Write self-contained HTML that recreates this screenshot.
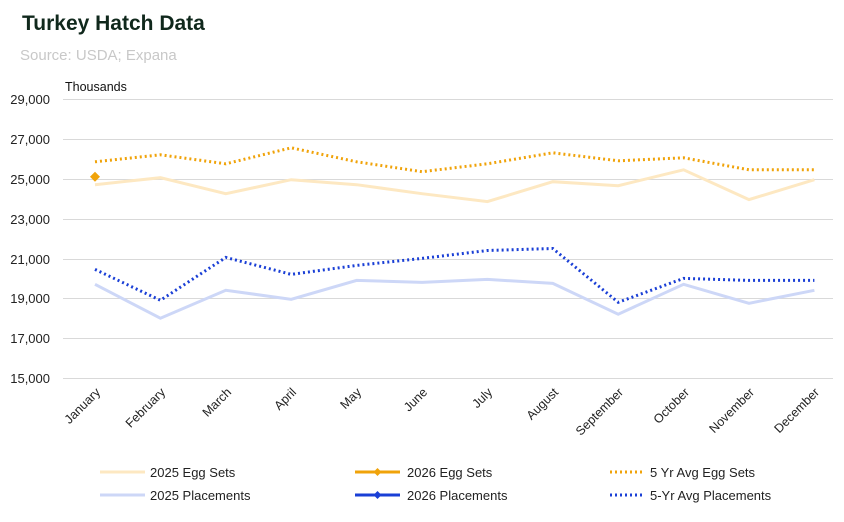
<!DOCTYPE html>
<html><head><meta charset="utf-8"><style>
body{margin:0;background:#fff;width:844px;height:517px;overflow:hidden;font-family:"Liberation Sans",sans-serif}
</style></head><body>
<svg id="s" width="844" height="517" xmlns="http://www.w3.org/2000/svg" font-family="Liberation Sans, sans-serif">
<text x="22" y="30" font-size="21" font-weight="bold" fill="#10281c">Turkey Hatch Data</text>
<text x="20" y="60" font-size="15" fill="#c8c8c8">Source: USDA; Expana</text>
<text x="65" y="91" font-size="12.5" fill="#111">Thousands</text>
<g font-size="13" fill="#222" text-anchor="end">
<text x="50" y="104">29,000</text><text x="50" y="144">27,000</text><text x="50" y="184">25,000</text><text x="50" y="224">23,000</text><text x="50" y="264">21,000</text><text x="50" y="303">19,000</text><text x="50" y="343">17,000</text><text x="50" y="383">15,000</text>
</g>
<g stroke="#d9d9d9" stroke-width="1">
<line x1="63" x2="833" y1="99.5" y2="99.5"/><line x1="63" x2="833" y1="139.5" y2="139.5"/><line x1="63" x2="833" y1="179.5" y2="179.5"/><line x1="63" x2="833" y1="219.5" y2="219.5"/><line x1="63" x2="833" y1="259.5" y2="259.5"/><line x1="63" x2="833" y1="298.5" y2="298.5"/><line x1="63" x2="833" y1="338.5" y2="338.5"/><line x1="63" x2="833" y1="378.5" y2="378.5"/>
</g>
<g font-size="12.5" fill="#222" text-anchor="end">
<text transform="translate(101,393) rotate(-45)">January</text>
<text transform="translate(166,393) rotate(-45)">February</text>
<text transform="translate(232,393) rotate(-45)">March</text>
<text transform="translate(297,393) rotate(-45)">April</text>
<text transform="translate(362,393) rotate(-45)">May</text>
<text transform="translate(428,393) rotate(-45)">June</text>
<text transform="translate(493,393) rotate(-45)">July</text>
<text transform="translate(559,393) rotate(-45)">August</text>
<text transform="translate(624,393) rotate(-45)">September</text>
<text transform="translate(690,393) rotate(-45)">October</text>
<text transform="translate(755,393) rotate(-45)">November</text>
<text transform="translate(820,393) rotate(-45)">December</text>
</g>
<g id="series"></g>
<g font-size="13" fill="#222">
<line x1="100" x2="145" y1="472" y2="472" stroke="#fde8c2" stroke-width="3"/><text x="150" y="477">2025 Egg Sets</text>
<line x1="355" x2="400" y1="472" y2="472" stroke="#f0a30a" stroke-width="3"/><path d="M377.5 468l4 4-4 4-4-4z" fill="#f0a30a"/><text x="407" y="477">2026 Egg Sets</text>
<line x1="610" x2="645" y1="472" y2="472" stroke="#f0a30a" stroke-width="3" stroke-dasharray="2,3"/><text x="650" y="477">5 Yr Avg Egg Sets</text>
<line x1="100" x2="145" y1="495" y2="495" stroke="#cdd7f7" stroke-width="3"/><text x="150" y="500">2025 Placements</text>
<line x1="355" x2="400" y1="495" y2="495" stroke="#1a3fd6" stroke-width="3"/><path d="M377.5 491l4 4-4 4-4-4z" fill="#1a3fd6"/><text x="407" y="500">2026 Placements</text>
<line x1="610" x2="645" y1="495" y2="495" stroke="#1a3fd6" stroke-width="3" stroke-dasharray="2,3"/><text x="650" y="500">5-Yr Avg Placements</text>
</g>
</svg>
<script>
var X=function(i){return 95+i*65.4},Y=function(v){return 99+(29000-v)*0.01993};
function pts(a){return a.map(function(v,i){return X(i).toFixed(1)+","+Y(v).toFixed(1)}).join(" ")}
var S=[
[[24700,25050,24250,24950,24700,24250,23850,24850,24650,25450,23950,24950],"#fde8c2",""],
[[19700,18000,19400,18950,19900,19800,19950,19750,18200,19700,18750,19400],"#cdd7f7",""],
[[25850,26200,25750,26550,25850,25350,25750,26300,25900,26050,25450,25450],"#f0a30a","2,3"],
[[20450,18900,21050,20200,20650,21000,21400,21500,18800,20000,19900,19900],"#1a3fd6","2,3"]];
var h="";S.forEach(function(s){h+='<polyline fill="none" stroke-width="3" stroke="'+s[1]+'" stroke-dasharray="'+(s[2]||"none")+'" points="'+pts(s[0])+'"/>'});
var y=Y(25100);h+='<path d="M95 '+(y-5)+'l5 5-5 5-5-5z" fill="#f0a30a"/>';
document.getElementById("series").innerHTML=h;
</script>
</body></html>
